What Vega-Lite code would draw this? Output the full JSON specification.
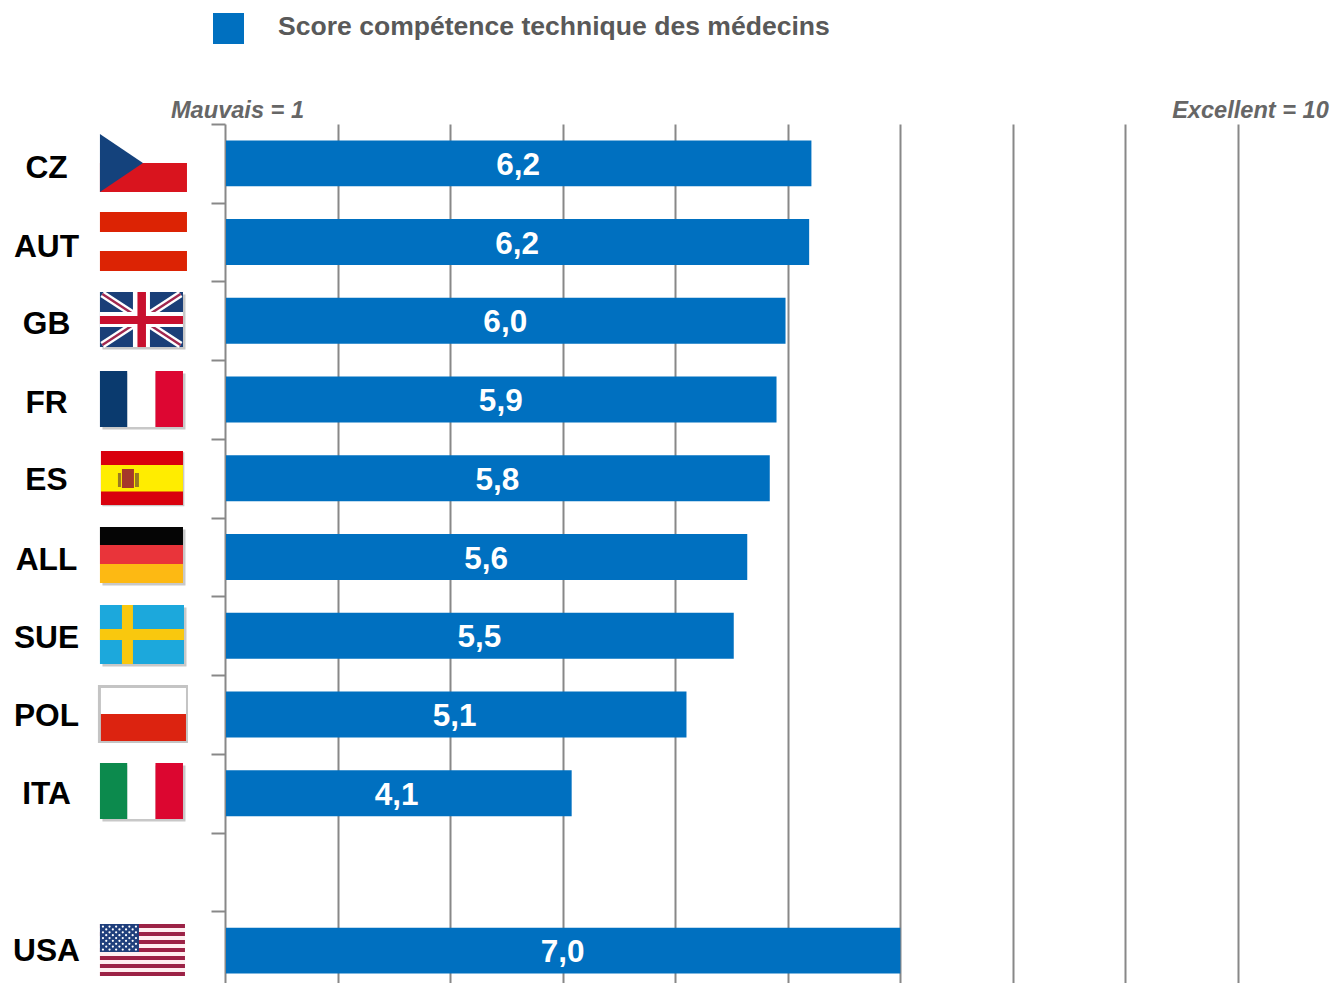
{"$schema":"https://vega.github.io/schema/vega-lite/v6.json","width":1013,"height":859,"autosize":"none","padding":{"left":225,"top":124,"right":95,"bottom":0},"background":"white","config":{"font":"Liberation Sans","view":{"stroke":null}},
"datasets":{
"scores":[
{"pays":"CZ","valeur":6.21,"milieu":3.605,"libelle":"6,2","serie":"Score compétence technique des médecins"},
{"pays":"AUT","valeur":6.19,"milieu":3.595,"libelle":"6,2","serie":"Score compétence technique des médecins"},
{"pays":"GB","valeur":5.98,"milieu":3.49,"libelle":"6,0","serie":"Score compétence technique des médecins"},
{"pays":"FR","valeur":5.9,"milieu":3.45,"libelle":"5,9","serie":"Score compétence technique des médecins"},
{"pays":"ES","valeur":5.84,"milieu":3.42,"libelle":"5,8","serie":"Score compétence technique des médecins"},
{"pays":"ALL","valeur":5.64,"milieu":3.32,"libelle":"5,6","serie":"Score compétence technique des médecins"},
{"pays":"SUE","valeur":5.52,"milieu":3.26,"libelle":"5,5","serie":"Score compétence technique des médecins"},
{"pays":"POL","valeur":5.1,"milieu":3.04,"libelle":"5,1","serie":"Score compétence technique des médecins"},
{"pays":"ITA","valeur":4.08,"milieu":2.525,"libelle":"4,1","serie":"Score compétence technique des médecins"},
{"pays":"USA","valeur":7.0,"milieu":4.0,"libelle":"7,0","serie":"Score compétence technique des médecins"}],
"drapeaux":[
{"pays":"GB","teinte":"ombre","x0":-0.0889,"x1":0.6489,"y0":2.166,"y1":2.865},
{"pays":"FR","teinte":"ombre","x0":-0.0889,"x1":0.6489,"y0":3.169,"y1":3.881},
{"pays":"ES","teinte":"ombre","x0":-0.09,"x1":0.6389,"y0":4.17,"y1":4.855},
{"pays":"ALL","teinte":"ombre","x0":-0.0889,"x1":0.6489,"y0":5.151,"y1":5.862},
{"pays":"SUE","teinte":"ombre","x0":-0.0889,"x1":0.6578,"y0":6.142,"y1":6.891},
{"pays":"ITA","teinte":"ombre","x0":-0.0889,"x1":0.6489,"y0":8.149,"y1":8.86},
{"pays":"CZ","teinte":"cz_rouge","x0":-0.1111,"x1":0.6622,"y0":0.495,"y1":0.864},
{"pays":"AUT","teinte":"aut_rouge","x0":-0.1111,"x1":0.6622,"y0":1.118,"y1":1.372},
{"pays":"AUT","teinte":"aut_rouge","x0":-0.1111,"x1":0.6622,"y0":1.613,"y1":1.867},
{"pays":"GB","teinte":"uk_bleu","x0":-0.1111,"x1":0.6267,"y0":2.134,"y1":2.833},
{"pays":"FR","teinte":"fr_bleu","x0":-0.1111,"x1":0.1333,"y0":3.137,"y1":3.849},
{"pays":"FR","teinte":"blanc","x0":0.1333,"x1":0.3822,"y0":3.137,"y1":3.849},
{"pays":"FR","teinte":"fr_rouge","x0":0.3822,"x1":0.6267,"y0":3.137,"y1":3.849},
{"pays":"ES","teinte":"es_rouge","x0":-0.1022,"x1":0.6267,"y0":4.154,"y1":4.839},
{"pays":"ES","teinte":"es_jaune","x0":-0.1022,"x1":0.6267,"y0":4.331,"y1":4.668},
{"pays":"ES","teinte":"es_pilier","x0":0.0489,"x1":0.0756,"y0":4.433,"y1":4.611},
{"pays":"ES","teinte":"es_pilier","x0":0.2,"x1":0.2356,"y0":4.433,"y1":4.611},
{"pays":"ES","teinte":"es_blason","x0":0.0844,"x1":0.1911,"y0":4.382,"y1":4.623},
{"pays":"ALL","teinte":"de_noir","x0":-0.1111,"x1":0.6267,"y0":5.119,"y1":5.348},
{"pays":"ALL","teinte":"de_rouge","x0":-0.1111,"x1":0.6267,"y0":5.348,"y1":5.589},
{"pays":"ALL","teinte":"de_or","x0":-0.1111,"x1":0.6267,"y0":5.589,"y1":5.83},
{"pays":"SUE","teinte":"se_bleu","x0":-0.1111,"x1":0.6356,"y0":6.11,"y1":6.859},
{"pays":"SUE","teinte":"se_jaune","x0":0.0844,"x1":0.1822,"y0":6.11,"y1":6.859},
{"pays":"SUE","teinte":"se_jaune","x0":-0.1111,"x1":0.6356,"y0":6.414,"y1":6.554},
{"pays":"POL","teinte":"pl_gris","x0":-0.1289,"x1":0.6711,"y0":7.126,"y1":7.862},
{"pays":"POL","teinte":"blanc","x0":-0.1022,"x1":0.6533,"y0":7.164,"y1":7.494},
{"pays":"POL","teinte":"pl_rouge","x0":-0.1022,"x1":0.6533,"y0":7.494,"y1":7.837},
{"pays":"ITA","teinte":"it_vert","x0":-0.1111,"x1":0.1333,"y0":8.117,"y1":8.828},
{"pays":"ITA","teinte":"blanc","x0":0.1333,"x1":0.3822,"y0":8.117,"y1":8.828},
{"pays":"ITA","teinte":"it_rouge","x0":0.3822,"x1":0.6267,"y0":8.117,"y1":8.828},
{"pays":"USA","teinte":"us_blanc","x0":-0.1111,"x1":0.6444,"y0":10.162,"y1":10.822},
{"pays":"USA","teinte":"us_rouge","x0":-0.1111,"x1":0.6444,"y0":10.162,"y1":10.213},
{"pays":"USA","teinte":"us_rouge","x0":-0.1111,"x1":0.6444,"y0":10.264,"y1":10.315},
{"pays":"USA","teinte":"us_rouge","x0":-0.1111,"x1":0.6444,"y0":10.365,"y1":10.416},
{"pays":"USA","teinte":"us_rouge","x0":-0.1111,"x1":0.6444,"y0":10.467,"y1":10.518},
{"pays":"USA","teinte":"us_rouge","x0":-0.1111,"x1":0.6444,"y0":10.568,"y1":10.619},
{"pays":"USA","teinte":"us_rouge","x0":-0.1111,"x1":0.6444,"y0":10.67,"y1":10.721},
{"pays":"USA","teinte":"us_rouge","x0":-0.1111,"x1":0.6444,"y0":10.772,"y1":10.822},
{"pays":"USA","teinte":"us_bleu","x0":-0.1111,"x1":0.2356,"y0":10.162,"y1":10.517}],
"croixGB":[
{"teinte":"blanc","x0":0.1822,"x1":0.3333,"y0":2.134,"y1":2.833},
{"teinte":"blanc","x0":-0.1111,"x1":0.6267,"y0":2.388,"y1":2.578},
{"teinte":"uk_rouge","x0":0.2222,"x1":0.2978,"y0":2.134,"y1":2.833},
{"teinte":"uk_rouge","x0":-0.1111,"x1":0.6267,"y0":2.439,"y1":2.54}],
"diagonalesGB":[
{"x0":-0.09,"x1":0.605,"y0":2.16,"y1":2.807},
{"x0":-0.09,"x1":0.605,"y0":2.807,"y1":2.16}],
"triangleCZ":[
{"x":-0.1111,"y0":0.127,"y1":0.864},
{"x":0.2711,"y0":0.495,"y1":0.495}],
"etoiles":[
{"x":-0.0844,"y":10.194},{"x":-0.0258,"y":10.194},{"x":0.0329,"y":10.194},{"x":0.0916,"y":10.194},{"x":0.1502,"y":10.194},{"x":0.2089,"y":10.194},
{"x":-0.0551,"y":10.23},{"x":0.0036,"y":10.23},{"x":0.0622,"y":10.23},{"x":0.1209,"y":10.23},{"x":0.1796,"y":10.23},
{"x":-0.0844,"y":10.267},{"x":-0.0258,"y":10.267},{"x":0.0329,"y":10.267},{"x":0.0916,"y":10.267},{"x":0.1502,"y":10.267},{"x":0.2089,"y":10.267},
{"x":-0.0551,"y":10.303},{"x":0.0036,"y":10.303},{"x":0.0622,"y":10.303},{"x":0.1209,"y":10.303},{"x":0.1796,"y":10.303},
{"x":-0.0844,"y":10.34},{"x":-0.0258,"y":10.34},{"x":0.0329,"y":10.34},{"x":0.0916,"y":10.34},{"x":0.1502,"y":10.34},{"x":0.2089,"y":10.34},
{"x":-0.0551,"y":10.376},{"x":0.0036,"y":10.376},{"x":0.0622,"y":10.376},{"x":0.1209,"y":10.376},{"x":0.1796,"y":10.376},
{"x":-0.0844,"y":10.413},{"x":-0.0258,"y":10.413},{"x":0.0329,"y":10.413},{"x":0.0916,"y":10.413},{"x":0.1502,"y":10.413},{"x":0.2089,"y":10.413},
{"x":-0.0551,"y":10.449},{"x":0.0036,"y":10.449},{"x":0.0622,"y":10.449},{"x":0.1209,"y":10.449},{"x":0.1796,"y":10.449},
{"x":-0.0844,"y":10.486},{"x":-0.0258,"y":10.486},{"x":0.0329,"y":10.486},{"x":0.0916,"y":10.486},{"x":0.1502,"y":10.486},{"x":0.2089,"y":10.486}]
},
"resolve":{"scale":{"y":"independent","color":"independent"}},
"layer":[
{"data":{"name":"scores"},
"layer":[
{"mark":{"type":"bar","color":"#0070c0","x2Offset":1},
"encoding":{
"x":{"field":"valeur","type":"quantitative","title":null,"stack":null,"scale":{"domain":[1,10],"nice":false,"zero":false},
"axis":{"orient":"top","values":[1,2,3,4,5,6,7,8,9,10],"grid":true,"gridColor":"#888888","gridWidth":2,"ticks":false,"domain":false,"labelExpr":"datum.value==1?'Mauvais = 1':datum.value==10?'Excellent = 10':''","labelOffset":12,"labelPadding":2,"labelFontSize":23.6,"labelFontWeight":"bold","labelFontStyle":"italic","labelColor":"#666666","labelOverlap":false,"labelFlush":false,"labelBound":false,"labelAngle":0}},
"x2":{"datum":1},
"y":{"field":"pays","type":"nominal","title":null,"scale":{"domain":["CZ","AUT","GB","FR","ES","ALL","SUE","POL","ITA"," ","USA"],"range":[0,866],"paddingInner":0.416,"paddingOuter":0.208},
"axis":{"orient":"left","domain":false,"tickOffset":-39.36,"tickSize":14,"tickColor":"#888888","tickWidth":2,"labelFontSize":31.7,"labelFontWeight":"bold","labelColor":"#000000","labelAlign":"center","labelPadding":165,"labelOverlap":false,"labelBound":false,"labelFlush":false,
"labelOffset":{"condition":[{"test":"datum.value=='CZ'||datum.value=='AUT'","value":43.4},{"test":"datum.value=='GB'||datum.value=='FR'","value":42.4},{"test":"datum.value=='ALL'||datum.value=='SUE'","value":41.4},{"test":"datum.value=='ES'||datum.value=='POL'","value":40.4}],"value":39.4}}},
"color":{"field":"serie","type":"nominal","scale":{"range":["#0070c0"]},
"legend":{"title":null,"orient":"none","legendX":-12,"legendY":-111,"symbolType":"square","symbolSize":961,"symbolStrokeWidth":0,"labelFontSize":26.55,"labelFontWeight":"bold","labelColor":"#595959","labelOffset":34,"labelLimit":800,"padding":0,"encoding":{"labels":{"dy":{"value":-2}}}}}}},
{"mark":{"type":"text","color":"white","fontSize":31.5,"fontWeight":"bold","dy":2.5},
"encoding":{
"x":{"field":"milieu","type":"quantitative","title":null},
"y":{"field":"pays","type":"nominal","title":null},
"text":{"field":"libelle","type":"nominal"}}}
]},
{"layer":[
{"data":{"name":"drapeaux"},"mark":{"type":"rect"},
"encoding":{
"x":{"field":"x0","type":"quantitative","title":null},"x2":{"field":"x1"},
"y":{"field":"y0","type":"quantitative","title":null,"axis":null,"scale":{"domain":[0,11],"range":[0,866],"nice":false,"zero":false}},"y2":{"field":"y1"},
"color":{"field":"teinte","type":"nominal","legend":null,"scale":{"domain":["cz_rouge","aut_rouge","uk_bleu","uk_rouge","blanc","fr_bleu","fr_rouge","es_rouge","es_jaune","es_blason","es_pilier","de_noir","de_rouge","de_or","se_bleu","se_jaune","pl_gris","pl_rouge","it_vert","it_rouge","us_blanc","us_rouge","us_bleu","ombre"],"range":["#d9141e","#dc2304","#1a3f78","#c8102e","#ffffff","#0a3a6e","#dd0632","#d9000d","#ffed00","#a5382a","#9a7a20","#050505","#e9343a","#fdb913","#1ca8dc","#f9c80e","#c4c4c4","#dc2310","#0c8a4d","#dc0630","#ffeef0","#9c2246","#1f3f7c","#c8c8c8"]}}}},
{"data":{"name":"diagonalesGB"},"mark":{"type":"rule","color":"#ffffff","strokeWidth":7},
"encoding":{"x":{"field":"x0","type":"quantitative","title":null},"x2":{"field":"x1"},"y":{"field":"y0","type":"quantitative","title":null,"axis":null},"y2":{"field":"y1"}}},
{"data":{"name":"diagonalesGB"},"mark":{"type":"rule","color":"#a0284f","strokeWidth":2.5},
"encoding":{"x":{"field":"x0","type":"quantitative","title":null},"x2":{"field":"x1"},"y":{"field":"y0","type":"quantitative","title":null,"axis":null},"y2":{"field":"y1"}}},
{"data":{"name":"croixGB"},"mark":{"type":"rect"},
"encoding":{
"x":{"field":"x0","type":"quantitative","title":null},"x2":{"field":"x1"},
"y":{"field":"y0","type":"quantitative","title":null,"axis":null},"y2":{"field":"y1"},
"color":{"field":"teinte","type":"nominal","legend":null}}},
{"data":{"name":"triangleCZ"},"mark":{"type":"area","color":"#14427c"},
"encoding":{"x":{"field":"x","type":"quantitative","title":null},"y":{"field":"y0","type":"quantitative","title":null,"axis":null,"stack":null},"y2":{"field":"y1"}}},
{"data":{"name":"etoiles"},"mark":{"type":"point","filled":true,"color":"#ffffff","opacity":1,"size":5},
"encoding":{"x":{"field":"x","type":"quantitative","title":null},"y":{"field":"y","type":"quantitative","title":null,"axis":null}}}
]}
]}
